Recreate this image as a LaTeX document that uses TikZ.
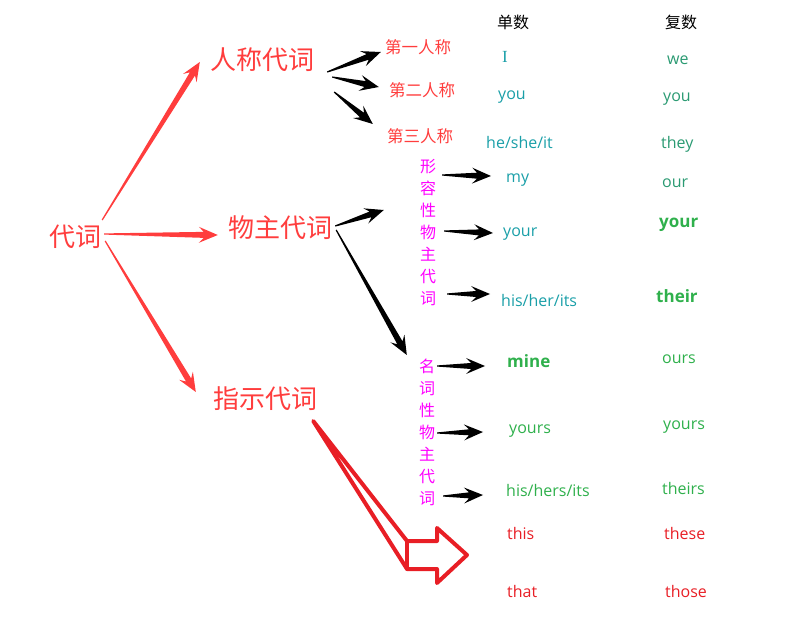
\documentclass[tikz,border=0pt]{standalone}
\usepackage{fontspec}
\setmainfont{Open Sans}
\newfontfamily\cjk{Noto Sans CJK SC}
\newfontfamily\serifI{Liberation Serif}
\usetikzlibrary{calc, positioning}
\definecolor{pnred}{HTML}{FF3D3D}
\definecolor{pnteal}{HTML}{1A9FA8}
\definecolor{pnsea}{HTML}{2A9A72}
\definecolor{pngreen}{HTML}{2FB04C}
\definecolor{pnmag}{HTML}{FF00FF}
\definecolor{pnframe}{HTML}{E81E25}

\tikzset{
  pnbig/.style={font=\cjk\fontsize{26}{26}\selectfont, text=pnred, inner sep=0pt},
  pnsmall/.style={font=\cjk\fontsize{16.5}{16.5}\selectfont, text=pnred, inner sep=0pt},
  colhead/.style={font=\cjk\fontsize{16}{16}\selectfont, inner sep=0pt},
  vlabel/.style={font=\cjk\fontsize{16}{22}\selectfont, text=pnmag, align=center, inner sep=0pt, anchor=north},
  word/.style={inner sep=0pt, anchor=base west, font=\fontsize{16}{16}\selectfont},
  sgl/.style={word, text=pnteal},
  plu/.style={word, text=pnsea},
  grn/.style={word, text=pngreen},
  grnb/.style={word, text=pngreen, font=\bfseries\fontsize{17}{17}\selectfont},
  dem/.style={word, text=pnframe},
  hollow/.style={draw=pnframe, line width=4pt, line join=round, line cap=round}
}

% tapered arrow: [colour]{start}{tip}
\newcommand{\pnarrow}[3][black]{%
  \path (#2) coordinate (tS) (#3) coordinate (tE);
  \path ($(tE)!19pt!(tS)$) coordinate (tB) ($(tE)!14pt!(tS)$) coordinate (tN);
  \fill[#1] ($(tS)!0.6pt!90:(tE)$) -- ($(tN)!3pt!90:(tE)$) -- ($(tB)!8pt!90:(tE)$) -- (tE)
    -- ($(tB)!8pt!-90:(tE)$) -- ($(tN)!3pt!-90:(tE)$) -- ($(tS)!0.6pt!-90:(tE)$) -- cycle;
}

\begin{document}
\begin{tikzpicture}[x=1pt, y=-1pt]
\useasboundingbox (0,0) rectangle (806,617);
% main word and groups
\node[pnbig] (daici) at (75,237) {代词};
\node[pnbig] (rencheng) at (262,60) {人称代词};
\node[pnbig] (wuzhu) at (280,228) {物主代词};
\node[pnbig] (zhishi) at (265,399) {指示代词};
\foreach \nm/\x/\y/\txt in {diyi/418/47/第一人称, dier/422/90/第二人称, disan/420/136/第三人称}
  \node[pnsmall] (\nm) at (\x,\y) {\txt};
% column heads
\node[colhead] (dan) at (513,22) {单数};
\node[colhead] (fu) at (681,22) {复数};
% vertical labels
\node[vlabel] (adj) at (428,159) {形\\容\\性\\物\\主\\代\\词};
\node[vlabel] (noun) at (427,359) {名\\词\\性\\物\\主\\代\\词};
% singular
\node[sgl, font=\serifI\fontsize{17}{17}\selectfont] (s1) at (502,63) {I};
\foreach \nm/\x/\y/\st/\txt in {
  s2/498/100/sgl/you, s3/486/149/sgl/{he/she/it}, s4/506/183/sgl/my,
  s5/503/237/sgl/your, s6/501/307/sgl/{his/her/its}, s7/507/368/grnb/mine,
  s8/509/433/grn/yours, s9/506/496/grn/{his/hers/its},
  s10/507/539/dem/this, s11/507/597/dem/that}
  \node[\st] (\nm) at (\x,\y) {\txt};
% plural
\foreach \nm/\x/\y/\st/\txt in {
  p1/667/65/plu/we, p2/663/102/plu/you, p3/661/149/plu/they, p4/662/188/plu/our,
  p5/659/228/grnb/your, p6/656/303/grnb/their, p7/662/364/grn/ours,
  p8/663/429/grn/yours, p9/662/494/grn/theirs,
  p10/664/539/dem/these, p11/665/597/dem/those}
  \node[\st] (\nm) at (\x,\y) {\txt};
% red arrows
\pnarrow[pnred]{$(daici.east)+(1,-17)$}{$(rencheng.west)+(-10,2)$}
\pnarrow[pnred]{$(daici.east)+(3,-3)$}{$(wuzhu.west)+(-10,7)$}
\pnarrow[pnred]{$(daici.east)+(4,4)$}{$(zhishi.west)+(-17,-7)$}
% black arrows
\pnarrow{$(rencheng.east)+(13,12)$}{$(diyi.west)+(-4,5)$}
\pnarrow{$(rencheng.east)+(18,17)$}{$(dier.west)+(-10,-3)$}
\pnarrow{$(rencheng.east)+(20,32)$}{$(disan.west)+(-14,-12)$}
\pnarrow{$(wuzhu.east)+(3,-2)$}{$(adj.north west)+(-36,51)$}
\pnarrow{$(wuzhu.east)+(4,2)$}{$(noun.north west)+(-12,-4)$}
\foreach \col/\sx/\sy/\tg/\tx/\ty in {
  adj/6/16/s4/-15/-7, adj/8/72/s5/-10/-4, adj/11/135/s6/-11/-13,
  noun/2/7/s7/-22/-2, noun/2/74/s8/-26/-1, noun/8/137/s9/-23/-1}
  \pnarrow{$(\col.north east)+(\sx,\sy)$}{$(\tg.base west)+(\tx,\ty)$}
% hollow arrow
\coordinate (hb) at ($(zhishi.east)+(-4,22)$);
\draw[hollow] (hb) -- (407,541) -- (437,541) -- (437,528) -- (467,555) -- (437,583)
  -- (437,569) -- (407,569) -- cycle;
\draw[hollow] (407,541) -- (407,569);
\end{tikzpicture}
\end{document}
